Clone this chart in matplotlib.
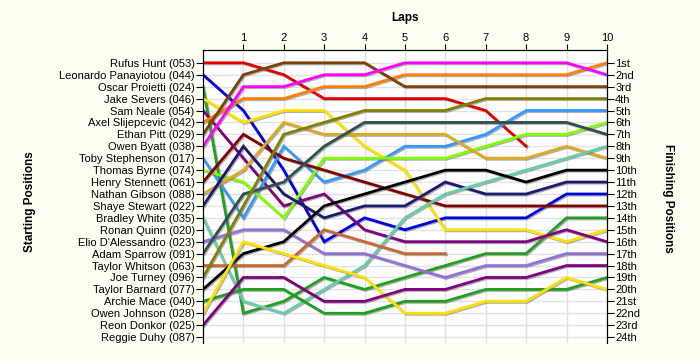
import matplotlib
matplotlib.use("Agg")
import matplotlib.pyplot as plt
import matplotlib.patheffects as pe

# drivers in starting order
drivers = ["Rufus Hunt (053)", "Leonardo Panayiotou (044)", "Oscar Proietti (024)",
           "Jake Severs (046)", "Sam Neale (054)", "Axel Slijepcevic (042)",
           "Ethan Pitt (029)", "Owen Byatt (038)", "Toby Stephenson (017)",
           "Thomas Byrne (074)", "Henry Stennett (061)", "Nathan Gibson (088)",
           "Shaye Stewart (022)", "Bradley White (035)", "Ronan Quinn (020)",
           "Elio D'Alessandro (023)", "Adam Sparrow (091)", "Taylor Whitson (063)",
           "Joe Turney (096)", "Taylor Barnard (077)", "Archie Mace (040)",
           "Owen Johnson (028)", "Reon Donkor (025)", "Reggie Duhy (087)"]

colors = ["#e00000", "#0000e0", "#20a020", "#ffe000", "#800080", "#ff8000",
          "#804000", "#ff00ff", "#3399ff", "#80ff00", "#800000", "#ddaa22",
          "#1a1a70", "#66ccaa", "#999999", "#9370db", "#2f4f4f", "#cc6633",
          "#808000", "#000000", "#20a020", "#ffe000", "#800080", "#999999"]

# race position at the end of each lap (lap 0 = grid), one list per driver
positions = [
    [1, 1, 2, 4, 4, 4, 4, 5, 8],
    [2, 5, 10, 16, 14, 15, 14, 14, 14, 12, 12],
    [3, 22, 21, 19, 20, 19, 18, 17, 17, 14, 14],
    [4, 6, 5, 5, 8, 10, 15, 15, 15, 16, 15],
    [5, 9, 13, 12, 15, 16, 16, 16, 16, 15, 16],
    [6, 4, 4, 3, 3, 2, 2, 2, 2, 2, 1],
    [7, 2, 1, 1, 1, 3, 3, 3, 3, 3, 3],
    [8, 3, 3, 2, 2, 1, 1, 1, 1, 1, 2],
    [9, 14, 8, 11, 10, 8, 8, 7, 5, 5, 5],
    [10, 11, 14, 9, 9, 9, 9, 8, 7, 7, 6],
    [11, 7, 9, 10, 11, 12, 13, 13, 13, 13, 13],
    [12, 10, 6, 7, 7, 7, 7, 9, 9, 8, 9],
    [13, 8, 12, 14, 13, 13, 11, 12, 12, 11, 11],
    [14, 21, 22, 20, 18, 14, 12, 11, 10, 9, 8],
    [],
    [16, 15, 15, 17, 17, 18, 19, 18, 18, 17, 17],
    [17, 12, 11, 8, 6, 6, 6, 6, 6, 6, 7],
    [18, 18, 18, 15, 16, 17, 17],
    [19, 13, 7, 6, 5, 5, 5, 4, 4, 4, 4],
    [20, 17, 16, 13, 12, 11, 10, 10, 11, 10, 10],
    [21, 20, 20, 22, 22, 21, 21, 20, 20, 20, 19],
    [22, 16, 17, 18, 19, 22, 22, 21, 21, 19, 20],
    [23, 19, 19, 21, 21, 20, 20, 19, 19, 18, 18],
    [],
]

finish_labels = ["1st", "2nd", "3rd"] + [f"{i}th" for i in range(4, 21)] + \
                ["21st", "22nd", "23rd", "24th"]
laps = list(range(0, 11))

plt.rcParams['font.family'] = ['Liberation Sans', 'DejaVu Sans']

fig = plt.figure(figsize=(7, 3.6), dpi=100, facecolor="#fffef2")
ax = fig.add_axes([0.29, 0.047, 0.577, 0.814])
ax.set_facecolor("white")

for i, pos in enumerate(positions):
    if not pos:
        continue
    ax.plot(laps[:len(pos)], pos, color=colors[i], lw=2.0, solid_joinstyle="miter",
            path_effects=[pe.SimpleLineShadow(offset=(0.8, -0.8), shadow_color="#666666", alpha=0.5),
                          pe.Normal()])

n = len(drivers)
ax.set_xlim(0, 10)
ax.set_ylim(n + 0.5, -0.07)

ax.set_xticks(range(1, 11))
ax.xaxis.tick_top()
ax.tick_params(axis="x", direction="out", length=4, pad=1, labelsize=8)
ax.set_yticks(range(1, n + 1))
ax.set_yticklabels(drivers)
ax.tick_params(axis="y", direction="out", length=5, pad=1, labelsize=8)

ax.grid(True, color="#e2e2e2", lw=1)
ax.set_axisbelow(True)
ax.spines["bottom"].set_visible(False)

ax2 = ax.twinx()
ax2.set_ylim(ax.get_ylim())
ax2.set_yticks(range(1, n + 1))
ax2.set_yticklabels(finish_labels)
ax2.tick_params(axis="y", direction="out", length=5, pad=1, labelsize=8)
ax2.spines["bottom"].set_visible(False)

fig.text(0.578, 0.95, "Laps", ha="center", va="center", fontsize=8.5, fontweight="bold")
fig.text(0.043, 0.44, "Starting Positions", ha="center", va="center", rotation=90,
         fontsize=8.5, fontweight="bold")
fig.text(0.954, 0.45, "Finishing Positions", ha="center", va="center", rotation=270,
         fontsize=8.5, fontweight="bold")

fig.savefig("out.png", dpi=100, facecolor=fig.get_facecolor())
